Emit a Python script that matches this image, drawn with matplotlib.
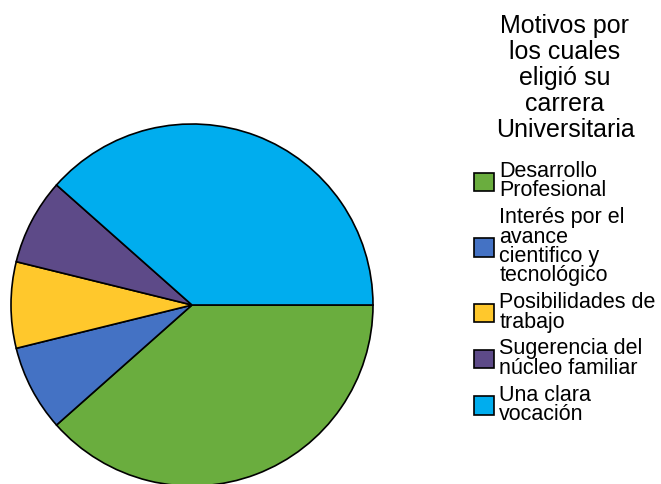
import matplotlib
matplotlib.use("Agg")
import matplotlib.pyplot as plt

plt.rcParams["font.family"] = ["Liberation Sans", "DejaVu Sans"]

labels = ["Desarrollo\nProfesional",
          "Interés por el\navance\ncientifico y\ntecnológico",
          "Posibilidades de\ntrabajo",
          "Sugerencia del\nnúcleo familiar",
          "Una clara\nvocación"]
counts = [5, 1, 1, 1, 5]
colors = ["#6aad3e", "#4472c4", "#ffc82c", "#5d4a88", "#00adee"]
legendTitle = "Motivos por\nlos cuales\neligió su\ncarrera\nUniversitaria"

W, H = 661, 484
fig = plt.figure(figsize=(W/100, H/100), dpi=100)

# pie centre ~ (192, 305) px from top-left, radius ~181 px
cx, cy, r = 192, 305, 181
ax = fig.add_axes([(cx - r)/W, (H - cy - r)/H, 2*r/W, 2*r/H])
wedges, _ = ax.pie(counts, colors=colors, startangle=0, counterclock=False,
                   wedgeprops=dict(edgecolor="black", linewidth=1.2))
for w in wedges:
    w.set_clip_on(False)
ax.set_xlim(-1, 1)
ax.set_ylim(-1, 1)
ax.set_aspect("equal")
ax.axis("off")

fig.text(565/W, 1 - 14/H, legendTitle, ha="center", va="top",
         multialignment="center", fontsize=18, linespacing=1.10)

leg = fig.legend(wedges, labels, loc="upper left",
                 bbox_to_anchor=(474/W, 1 - 161/H), bbox_transform=fig.transFigure,
                 frameon=False, fontsize=15.5,
                 handlelength=0.93, handleheight=0.93, handletextpad=0.25,
                 labelspacing=0.27, borderpad=0, borderaxespad=0)
for t in leg.get_texts():
    t.set_linespacing(0.9)
for h in leg.legend_handles:
    h.set_edgecolor("black")
    h.set_linewidth(1.2)

fig.savefig("out.png", dpi=100)
